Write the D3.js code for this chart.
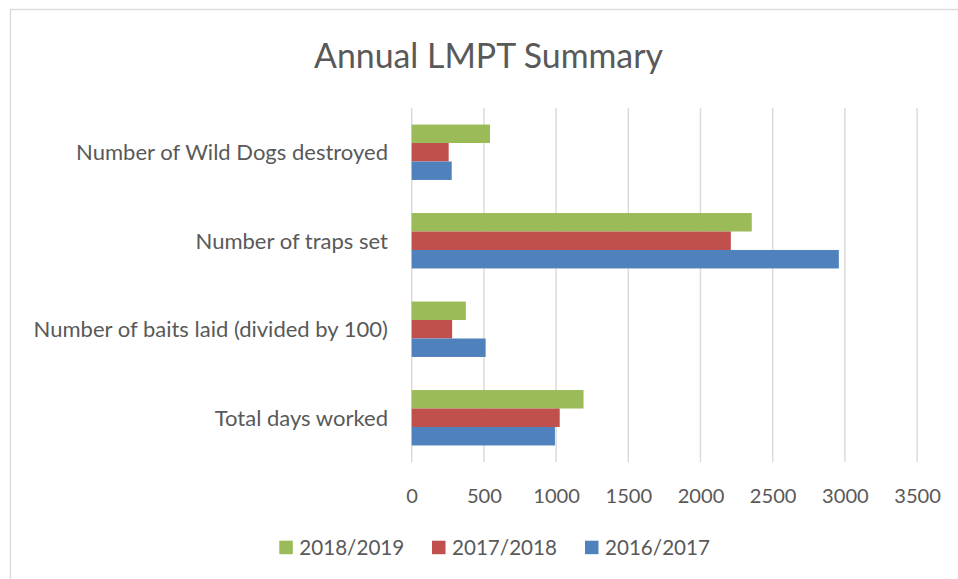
<!DOCTYPE html>
<html>
<head>
<meta charset="utf-8">
<script src="https://cdn.jsdelivr.net/npm/d3@7"></script>
<style>
  html, body { margin: 0; padding: 0; background: #fff; }
  svg { display: block; }
  text { font-family: Lato, "Open Sans", sans-serif; fill: #595959; }
</style>
</head>
<body>
<svg id="chart" width="958" height="579"></svg>
<script>
const title = "Annual LMPT Summary";
const categories = [
  "Number of Wild Dogs destroyed",
  "Number of traps set",
  "Number of baits laid (divided by 100)",
  "Total days worked"
];
const seriesNames = ["2018/2019", "2017/2018", "2016/2017"];
const seriesColors = ["#9BBB59", "#C0504D", "#4F81BD"];
const values2018_2019 = [542, 2355, 375, 1190];
const values2017_2018 = [256, 2210, 280, 1025];
const values2016_2017 = [277, 2958, 512, 992];
const tickValues = [0, 500, 1000, 1500, 2000, 2500, 3000, 3500];

const seriesValues = [values2018_2019, values2017_2018, values2016_2017];

const svg = d3.select("#chart");

// chart frame
svg.append("rect")
  .attr("x", 10.5).attr("y", 9.5)
  .attr("width", 980).attr("height", 600)
  .attr("fill", "#fff").attr("stroke", "#d9d9d9").attr("stroke-width", 1.3);

const x = d3.scaleLinear().domain([0, 3500]).range([411.7, 917.1]);
const y = d3.scaleBand().domain(categories).range([108, 462])
  .paddingInner(0.374).paddingOuter(0.187);
const ySub = d3.scaleBand().domain(seriesNames).range([0, y.bandwidth()]);

// fit helper: scale font size so text width matches target
function fit(sel, target, base) {
  sel.style("font-size", base + "px");
  const w = sel.node().getComputedTextLength();
  const size = base * target / w;
  sel.style("font-size", size + "px");
  return size;
}

// gridlines
svg.append("g").selectAll("line").data(tickValues).join("line")
  .attr("x1", d => x(d)).attr("x2", d => x(d))
  .attr("y1", 108).attr("y2", 462)
  .attr("stroke", "#d9d9d9").attr("stroke-width", 1.4);

// bars
const groups = svg.append("g").selectAll("g").data(seriesNames).join("g")
  .attr("fill", (d, i) => seriesColors[i]);
groups.selectAll("rect")
  .data((s, si) => categories.map((c, ci) => ({c, s, v: seriesValues[si][ci]})))
  .join("rect")
  .attr("x", x(0))
  .attr("y", d => y(d.c) + ySub(d.s))
  .attr("width", d => x(d.v) - x(0))
  .attr("height", ySub.bandwidth());

// x axis labels using d3 axis
const axisG = svg.append("g").attr("transform", "translate(0,478)")
  .call(d3.axisBottom(x).tickValues(tickValues).tickSize(0).tickPadding(0).tickFormat(d3.format("d")));
axisG.select(".domain").remove();
axisG.selectAll("text").attr("dy", null).attr("y", 25).attr("fill", "#595959")
  .style("font-family", "Lato, sans-serif");
const axisRef = axisG.selectAll("text").filter(d => d === 3500);
const axisSize = fit(axisRef, 46.7, 20);
axisG.selectAll("text").style("font-size", axisSize + "px");

// category labels using d3 axis
const catG = svg.append("g").attr("transform", "translate(388,0)")
  .call(d3.axisLeft(y).tickSize(0).tickPadding(0));
catG.select(".domain").remove();
catG.selectAll("text").attr("x", 0).attr("dy", "0.36em").attr("fill", "#595959")
  .style("font-family", "Lato, sans-serif");
const catRef = catG.selectAll("text").filter(d => d === categories[0]);
const catSize = fit(catRef, 312, 19);
catG.selectAll("text").style("font-size", catSize + "px");

// title
const t = svg.append("text").attr("x", 488.5).attr("y", 67.7)
  .attr("text-anchor", "middle").text(title);
fit(t, 349, 36);

// legend
const legendX = [279.3, 432, 585];
const lg = svg.append("g").selectAll("g").data(seriesNames).join("g")
  .attr("transform", (d, i) => `translate(${legendX[i]},540.7)`);
lg.append("rect").attr("width", 13.5).attr("height", 13.5)
  .attr("fill", (d, i) => seriesColors[i]);
const lt = lg.append("text").attr("x", 20).attr("y", 14.5).text(d => d);
const legSize = fit(d3.select(lt.nodes()[0]), 105, 20);
lt.style("font-size", legSize + "px");
</script>
</body>
</html>
